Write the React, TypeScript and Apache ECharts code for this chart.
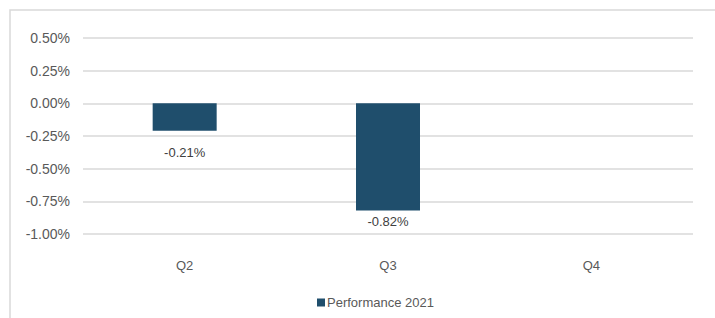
import React, { useEffect, useRef } from "react";
import * as echarts from "echarts";

const categories = ["Q2", "Q3", "Q4"];
const performance2021 = [-0.21, -0.82, null];
const seriesName = "Performance 2021";
const yMin = -1;
const yMax = 0.5;
const yStep = 0.25;

export default function App() {
  const ref = useRef<HTMLDivElement>(null);
  useEffect(() => {
    if (!ref.current) return;
    const chart = echarts.init(ref.current, null, { renderer: "svg" });
    const font = "'Liberation Sans', Arial, sans-serif";
    const labelGaps = [15, 5, 10];
    chart.setOption({
      animation: false,
      backgroundColor: "#ffffff",
      textStyle: { fontFamily: font },
      graphic: [
        {
          type: "rect",
          shape: { x: 10, y: 10, width: 740, height: 340 },
          style: { fill: "none", stroke: "#d9d9d9", lineWidth: 1.5 },
          silent: true,
        },
      ],
      grid: { left: 83, right: 22, top: 38, bottom: 84, containLabel: false },
      legend: {
        data: [seriesName],
        left: 312,
        top: 291,
        itemWidth: 8,
        itemHeight: 8,
        itemGap: 10,
        icon: "rect",
        textStyle: { fontFamily: font, fontSize: 13, color: "#595959", padding: [0, 0, 0, -3] },
      },
      xAxis: {
        type: "category",
        data: categories,
        position: "bottom",
        axisLine: { show: false },
        axisTick: { show: false },
        axisLabel: { margin: 25, fontSize: 13, color: "#595959", fontFamily: font },
        splitLine: { show: false },
      },
      yAxis: {
        type: "value",
        min: yMin,
        max: yMax,
        interval: yStep,
        axisLine: { show: false },
        axisTick: { show: false },
        axisLabel: {
          margin: 13,
          fontSize: 14,
          color: "#595959",
          fontFamily: font,
          formatter: (v: number) => v.toFixed(2) + "%",
        },
        splitLine: { lineStyle: { color: "#d9d9d9", width: 1.5 } },
      },
      series: [
        {
          name: seriesName,
          type: "bar",
          data: performance2021.map((v, i) => ({
            value: v,
            label: { distance: labelGaps[i] },
          })),
          barWidth: 64,
          itemStyle: { color: "#1f4e6c" },
          label: {
            show: true,
            position: "bottom",
            distance: 10,
            fontSize: 13,
            color: "#404040",
            fontFamily: font,
            formatter: (p: any) => (p.value == null ? "" : p.value.toFixed(2) + "%"),
          },
        },
      ],
    });
    return () => chart.dispose();
  }, []);
  return (
    <div
      ref={ref}
      style={{ position: "fixed", left: 0, top: 0, width: 715, height: 318 }}
    />
  );
}
